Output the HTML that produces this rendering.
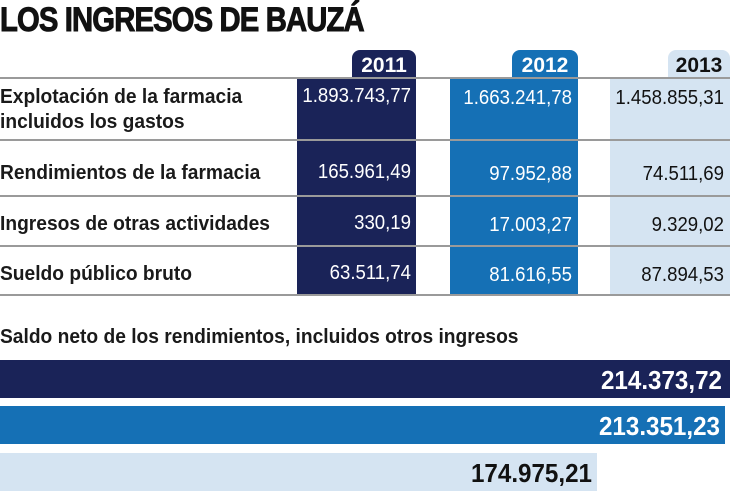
<!DOCTYPE html>
<html><head><meta charset="utf-8"><style>
*{margin:0;padding:0;box-sizing:border-box}
body{width:730px;height:500px;background:#fff;position:relative;overflow:hidden;font-family:"Liberation Sans",sans-serif;color:#111}
.a{position:absolute;white-space:nowrap}
.t{left:0;top:1px;font-size:34px;font-weight:bold;letter-spacing:-1px;transform:scaleX(0.86);transform-origin:left;-webkit-text-stroke:1px #111}
.line{position:absolute;left:0;width:730px;height:2px;background:#9a9a9a}
.col{position:absolute;top:78px;height:217px}
.tab{position:absolute;top:50px;height:29px;border-radius:8px 8px 0 0;font-weight:bold;font-size:21px;text-align:center;line-height:31px}
.lab{left:0;font-size:20px;line-height:25px;font-weight:bold;transform:scaleX(0.96);transform-origin:left;color:#1a1a1a}
.v{font-size:20px;text-align:right;width:118px;transform:scaleX(0.93);transform-origin:right}
.bar{position:absolute;left:0;height:38px}
.bv{position:absolute;font-weight:bold;font-size:26px;line-height:40px;transform:scaleX(0.93);transform-origin:right;text-align:right;width:200px}
</style></head><body>
<div class="a t">LOS INGRESOS DE BAUZÁ</div>
<div class="col" style="left:297px;width:119px;background:#1a2358"></div>
<div class="col" style="left:450px;width:128px;background:#1570b5"></div>
<div class="col" style="left:610px;width:120px;background:#d5e4f2"></div>
<div class="tab" style="left:352px;width:64px;background:#1a2358;color:#fff">2011</div>
<div class="tab" style="left:512px;width:66px;background:#1570b5;color:#fff">2012</div>
<div class="tab" style="left:668px;width:62px;background:#d5e4f2;color:#111">2013</div>
<div class="line" style="top:77px"></div>
<div class="line" style="top:139px"></div>
<div class="line" style="top:195px"></div>
<div class="line" style="top:245px"></div>
<div class="line" style="top:294px"></div>
<div class="a lab" style="top:85px">Explotación de la farmacia<br>incluidos los gastos</div>
<div class="a lab" style="top:161px">Rendimientos de la farmacia</div>
<div class="a lab" style="top:212px">Ingresos de otras actividades</div>
<div class="a lab" style="top:262px">Sueldo público bruto</div>

<div class="a v" style="left:293px;top:85px;color:#fff">1.893.743,77</div>
<div class="a v" style="left:454px;top:87px;color:#fff">1.663.241,78</div>
<div class="a v" style="left:606px;top:87px">1.458.855,31</div>

<div class="a v" style="left:293px;top:161px;color:#fff">165.961,49</div>
<div class="a v" style="left:454px;top:163px;color:#fff">97.952,88</div>
<div class="a v" style="left:606px;top:163px">74.511,69</div>

<div class="a v" style="left:293px;top:212px;color:#fff">330,19</div>
<div class="a v" style="left:454px;top:214px;color:#fff">17.003,27</div>
<div class="a v" style="left:606px;top:214px">9.329,02</div>

<div class="a v" style="left:293px;top:262px;color:#fff">63.511,74</div>
<div class="a v" style="left:454px;top:264px;color:#fff">81.616,55</div>
<div class="a v" style="left:606px;top:264px">87.894,53</div>

<div class="a" style="left:0;top:326px;font-size:20px;font-weight:bold;transform:scaleX(0.96);transform-origin:left;color:#1a1a1a">Saldo neto de los rendimientos, incluidos otros ingresos</div>
<div class="bar" style="top:360px;width:730px;background:#1a2358"></div>
<div class="bar" style="top:406px;width:725px;background:#1570b5"></div>
<div class="bar" style="top:453px;width:597px;background:#d5e4f2"></div>
<div class="bv" style="left:522px;top:360px;color:#fff">214.373,72</div>
<div class="bv" style="left:520px;top:406px;color:#fff">213.351,23</div>
<div class="bv" style="left:392px;top:453px;color:#111">174.975,21</div>
</body></html>
